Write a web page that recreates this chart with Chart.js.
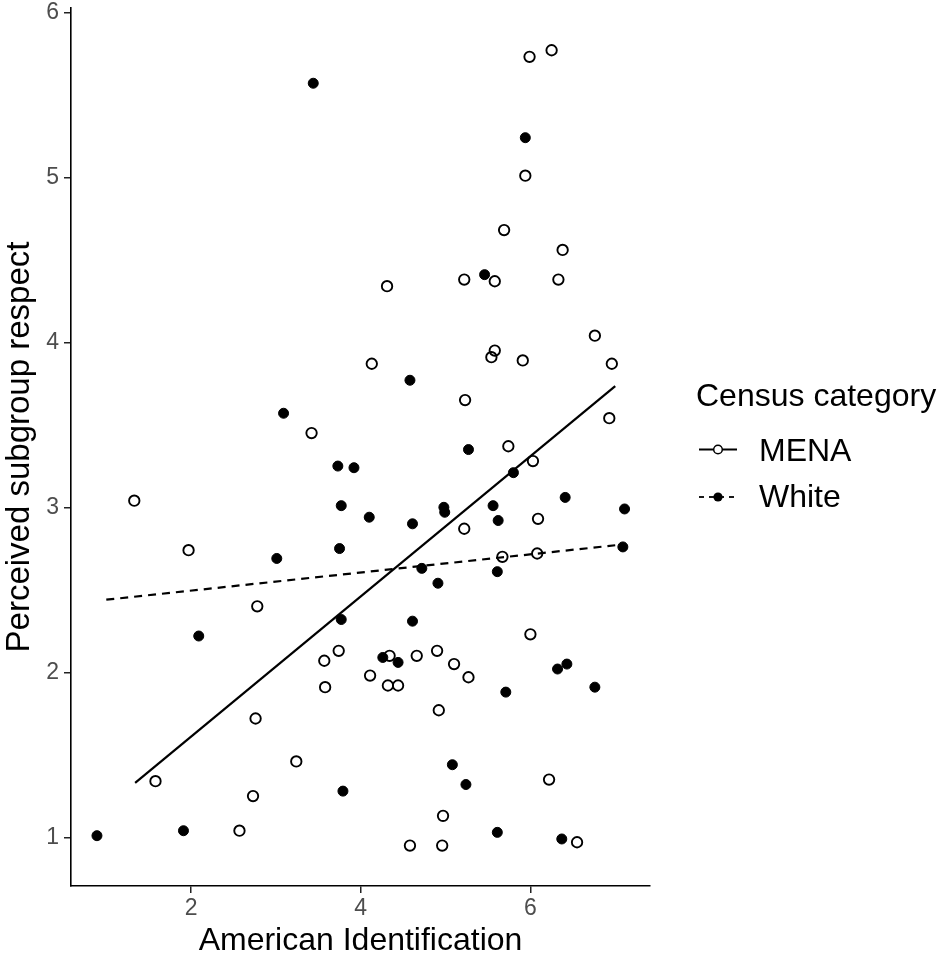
<!DOCTYPE html>
<html>
<head>
<meta charset="utf-8">
<script src="https://cdn.jsdelivr.net/npm/chart.js@4/dist/chart.umd.min.js"></script>
<style>
  html, body { margin: 0; padding: 0; background: #ffffff; }
  #plot { display: block; }
</style>
</head>
<body>
<canvas id="plot" width="945" height="960"></canvas>
<script>
// values
var menaX = [5.99, 6.25, 5.94, 5.69, 6.38, 5.22, 5.58, 6.33, 4.31, 3.42,
             1.33, 1.97, 2.78, 4.13, 5.58, 5.54, 5.91, 6.76, 6.96, 5.23,
             6.93, 5.74, 6.03, 6.09, 5.22, 5.67, 6.08, 3.74, 3.57, 3.58,
             2.76, 3.24, 1.58, 2.73, 2.57, 6.00, 4.34, 4.66, 4.90, 5.10,
             5.27, 4.11, 4.32, 4.44, 4.92, 6.22, 4.97, 6.55, 4.58, 4.96];
var menaY = [5.73, 5.77, 5.01, 4.68, 4.56, 4.38, 4.37, 4.38, 4.34, 3.45,
             3.04, 2.74, 2.40, 3.87, 3.95, 3.91, 3.89, 4.04, 3.87, 3.65,
             3.54, 3.37, 3.28, 2.93, 2.87, 2.70, 2.72, 2.13, 2.07, 1.91,
             1.72, 1.46, 1.34, 1.25, 1.04, 2.23, 2.10, 2.10, 2.13, 2.05,
             1.97, 1.98, 1.92, 1.92, 1.77, 1.35, 1.13, 0.97, 0.95, 0.95];

var whiteX = [3.44, 5.94, 5.46, 3.09, 3.73, 3.92, 3.77, 3.01, 3.75, 3.77,
              4.58, 5.27, 5.80, 6.41, 7.11, 4.10, 4.61, 4.98, 4.99, 5.56,
              5.62, 7.09, 4.72, 4.91, 5.61, 4.61, 2.09, 3.79, 1.91, 0.89,
              4.26, 4.44, 6.32, 6.43, 5.71, 6.76, 5.08, 5.24, 5.61, 6.37];
var whiteY = [5.57, 5.24, 4.41, 3.57, 3.25, 3.24, 3.01, 2.69, 2.75, 2.32,
              3.77, 3.35, 3.21, 3.06, 2.99, 2.94, 2.90, 3.00, 2.97, 3.01,
              2.92, 2.76, 2.63, 2.54, 2.61, 2.31, 2.22, 1.28, 1.04, 1.01,
              2.09, 2.06, 2.02, 2.05, 1.88, 1.91, 1.44, 1.32, 1.03, 0.99];

// fitted lines (end points)
var menaFitX = [1.34, 7.0];
var menaFitY = [1.33, 3.735];
var whiteFitX = [1.0, 7.0];
var whiteFitY = [2.44, 2.77];

var xTicks = [2, 4, 6];
var yTicks = [1, 2, 3, 4, 5, 6];

var seriesNames = ['MENA', 'White'];
var legendTitle = 'Census category';

var FONT = "'Liberation Sans', Arial, Helvetica, sans-serif";

function toPoints(xs, ys)
{
  var pts = [];
  for (var i = 0; i < xs.length; i++) {
    pts.push({x: xs[i], y: ys[i]});
  }
  return pts;
}

// legend drawn by hand so it sits like the ggplot guide
var legendPlugin = {
  id: 'sideLegend',
  afterDraw: function(chart) {
    var ctx = chart.ctx;
    ctx.save();
    ctx.fillStyle = '#000000';
    ctx.textAlign = 'left';
    ctx.textBaseline = 'alphabetic';
    ctx.font = '32px ' + FONT;
    ctx.fillText(legendTitle, 696, 406);
    ctx.fillText(seriesNames[0], 759, 461);
    ctx.fillText(seriesNames[1], 759, 507);

    ctx.strokeStyle = '#000000';
    ctx.lineWidth = 1.8;

    // MENA key
    ctx.beginPath();
    ctx.moveTo(699, 449.5);
    ctx.lineTo(737, 449.5);
    ctx.stroke();
    ctx.beginPath();
    ctx.arc(718, 449.5, 4.3, 0, Math.PI * 2);
    ctx.fillStyle = '#ffffff';
    ctx.fill();
    ctx.lineWidth = 1.5;
    ctx.stroke();

    // White key
    ctx.lineWidth = 1.8;
    ctx.setLineDash([5, 5]);
    ctx.beginPath();
    ctx.moveTo(699, 497);
    ctx.lineTo(737, 497);
    ctx.stroke();
    ctx.setLineDash([]);
    ctx.beginPath();
    ctx.arc(718, 497, 4.6, 0, Math.PI * 2);
    ctx.fillStyle = '#000000';
    ctx.fill();
    ctx.restore();
  }
};

var ctx = document.getElementById('plot');
var scatterChart = new Chart(ctx, {
  type: 'scatter',
  data: {
    datasets: [
      {
        label: 'MENA fit',
        data: toPoints(menaFitX, menaFitY),
        showLine: true,
        borderColor: '#000000',
        borderWidth: 2.2,
        pointRadius: 0,
        order: 1
      },
      {
        label: 'White fit',
        data: toPoints(whiteFitX, whiteFitY),
        showLine: true,
        borderColor: '#000000',
        borderWidth: 2.2,
        borderDash: [8, 6],
        pointRadius: 0,
        order: 2
      },
      {
        label: seriesNames[0],
        data: toPoints(menaX, menaY),
        pointStyle: 'circle',
        pointRadius: 5.2,
        pointBorderWidth: 1.9,
        pointBorderColor: '#000000',
        pointBackgroundColor: 'rgba(0,0,0,0)',
        order: 3
      },
      {
        label: seriesNames[1],
        data: toPoints(whiteX, whiteY),
        pointStyle: 'circle',
        pointRadius: 5,
        pointBorderWidth: 1,
        pointBorderColor: '#000000',
        pointBackgroundColor: '#000000',
        order: 4
      }
    ]
  },
  options: {
    responsive: false,
    animation: false,
    devicePixelRatio: 1,
    layout: {
      padding: {left: 0, top: 8, right: 295, bottom: 0}
    },
    plugins: {
      legend: {display: false},
      tooltip: {enabled: false}
    },
    scales: {
      x: {
        type: 'linear',
        min: 0.584,
        max: 7.41,
        afterBuildTicks: function(scale) {
          scale.ticks = xTicks.map(function(v) { return {value: v}; });
        },
        afterFit: function(scale) {
          scale.height = 74;
          scale.paddingLeft = 0;
          scale.paddingRight = 0;
        },
        grid: {
          display: true,
          drawOnChartArea: false,
          drawTicks: true,
          tickLength: 7,
          color: '#222222',
          lineWidth: 1.5
        },
        border: {display: true, color: '#000000', width: 1.6},
        ticks: {
          color: '#4d4d4d',
          padding: 2,
          font: {family: FONT, size: 23},
          maxRotation: 0
        },
        title: {
          display: true,
          text: 'American Identification',
          color: '#000000',
          padding: 0,
          font: {family: FONT, size: 32}
        }
      },
      y: {
        type: 'linear',
        min: 0.705,
        max: 6.026,
        afterBuildTicks: function(scale) {
          scale.ticks = yTicks.map(function(v) { return {value: v}; });
        },
        afterFit: function(scale) {
          scale.width = 71;
          scale.paddingTop = 0;
          scale.paddingBottom = 0;
        },
        grid: {
          display: true,
          drawOnChartArea: false,
          drawTicks: true,
          tickLength: 7,
          color: '#222222',
          lineWidth: 1.5
        },
        border: {display: true, color: '#000000', width: 1.6},
        ticks: {
          color: '#4d4d4d',
          padding: 5,
          font: {family: FONT, size: 23}
        },
        title: {
          display: true,
          text: 'Perceived subgroup respect',
          color: '#000000',
          padding: 0,
          font: {family: FONT, size: 33}
        }
      }
    }
  },
  plugins: [legendPlugin]
});
</script>
</body>
</html>
